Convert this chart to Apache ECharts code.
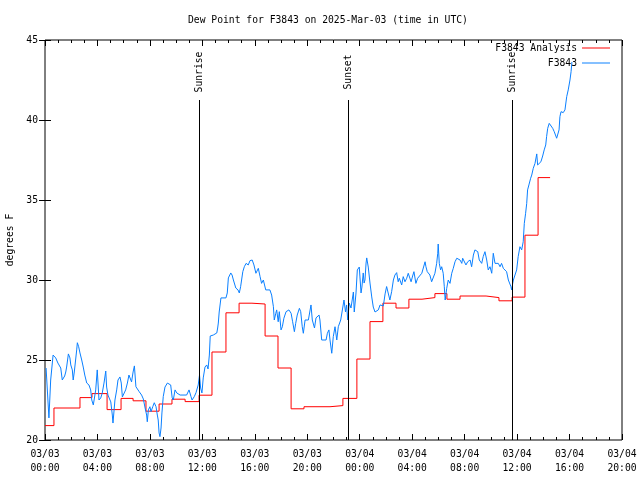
<!DOCTYPE html>
<html><head><meta charset="utf-8">
<script src="https://cdn.jsdelivr.net/npm/echarts@6/dist/echarts.min.js"></script>
<style>html,body{margin:0;padding:0;background:#fff}#c{width:640px;height:480px}</style>
</head><body><div id="c"></div>
<script>
const FONT = '"DejaVu Sans Mono", "Liberation Mono", monospace';
const FS = 9.7;

const titleText = 'Dew Point for F3843 on 2025-Mar-03 (time in UTC)';
const yAxisName = 'degrees F';
// x axis: minutes since 03/03 00:00 UTC
const tickLabels = ['03/03\n00:00','03/03\n04:00','03/03\n08:00','03/03\n12:00','03/03\n16:00','03/03\n20:00',
                    '03/04\n00:00','03/04\n04:00','03/04\n08:00','03/04\n12:00','03/04\n16:00','03/04\n20:00'];

const eventMinutes = [706, 1388, 2140];
const eventLabels = ['Sunrise', 'Sunset', 'Sunrise'];

const analysisName = 'F3843 Analysis';
const analysisMinutes = [0,41,160,215,284,348,403,462,522,581,641,705,764,828,888,947,1007,1066,1126,1185,1304,1363,1427,1487,1546,1606,1665,1725,1784,1839,1899,2018,2077,2137,2196,2256,2311];
const analysisValues = [20.9,22.0,22.65,22.9,21.9,22.6,22.45,21.8,22.25,22.55,22.4,22.8,25.5,27.95,28.55,28.5,26.5,24.5,21.95,22.08,22.15,22.6,25.06,27.4,28.55,28.25,28.8,28.9,29.15,28.8,29.0,28.9,28.7,28.93,32.8,36.4,36.4];

const stationName = 'F3843';
const stationMinutes = [5,18,26,37,49,59,72,79,90,95,99,107,114,118,125,129,134,140,145,148,154,160,168,175,182,191,201,209,214,221,232,239,247,255,262,270,278,282,288,301,308,311,320,328,334,343,349,354,361,369,377,384,396,403,409,416,431,442,450,458,465,468,473,480,485,493,500,508,514,518,522,526,531,535,541,549,560,569,575,582,587,595,603,618,648,659,668,673,683,691,701,707,712,718,724,732,740,746,752,756,770,786,790,793,797,805,828,834,839,850,856,862,873,880,883,889,895,905,912,920,926,930,938,948,956,965,976,984,991,999,1010,1029,1037,1045,1049,1056,1060,1067,1072,1080,1086,1093,1103,1116,1126,1133,1141,1147,1154,1164,1170,1177,1182,1190,1205,1209,1217,1223,1233,1240,1254,1258,1266,1286,1292,1299,1304,1312,1319,1327,1335,1342,1353,1360,1368,1375,1380,1385,1392,1400,1411,1415,1423,1429,1438,1441,1446,1450,1456,1460,1464,1469,1472,1479,1487,1495,1502,1510,1518,1525,1533,1540,1548,1556,1563,1571,1578,1586,1594,1601,1609,1616,1621,1632,1639,1647,1655,1662,1670,1675,1682,1688,1697,1705,1713,1724,1731,1739,1743,1749,1754,1761,1769,1777,1784,1792,1797,1799,1804,1810,1815,1822,1827,1831,1838,1845,1853,1861,1868,1876,1884,1891,1899,1907,1911,1918,1926,1934,1945,1952,1960,1967,1975,1980,1987,1998,2005,2013,2021,2028,2036,2044,2051,2059,2067,2074,2082,2089,2097,2105,2112,2120,2128,2132,2135,2140,2143,2150,2158,2165,2173,2181,2188,2193,2199,2204,2208,2214,2222,2227,2234,2242,2250,2254,2260,2269,2277,2284,2291,2295,2300,2307,2315,2323,2330,2341,2346,2352,2356,2361,2371,2379,2387,2394,2402,2407,2411];
const stationValues = [24.5,21.38,23.75,25.31,25.13,24.81,24.5,23.75,24.0,24.25,24.56,25.38,25.13,24.69,24.38,23.75,24.25,25.0,25.63,26.08,25.83,25.44,25.0,24.56,24.06,23.56,23.44,23.13,22.5,22.19,23.13,24.38,22.5,22.63,22.94,23.56,24.31,23.31,22.81,22.38,21.56,21.06,22.5,23.13,23.75,23.94,23.56,22.69,22.81,23.13,23.56,24.06,23.63,24.25,24.63,23.33,23.02,22.81,22.56,22.0,21.56,21.14,21.88,22.08,21.77,22.08,22.33,22.08,21.56,21.25,20.44,20.21,20.75,21.69,22.71,23.31,23.56,23.64,23.44,22.63,22.5,23.13,22.94,22.81,22.81,23.13,22.71,22.5,22.71,22.96,23.44,24.06,23.25,22.94,23.88,24.56,24.69,24.44,25.31,26.5,26.56,26.69,27.0,27.31,28.0,28.88,28.88,29.19,30.13,30.44,30.31,30.0,29.5,29.58,29.38,29.19,29.58,30.52,30.83,31.04,31.14,30.94,31.21,31.25,30.94,30.42,30.73,30.21,29.79,30.0,29.38,29.38,29.06,28.33,27.5,27.92,28.13,27.39,28.02,26.88,27.08,27.61,28.02,28.13,27.92,27.39,26.77,27.29,27.81,28.23,28.02,27.08,26.67,27.5,27.5,27.81,28.44,27.5,27.0,27.63,27.81,27.5,26.25,26.25,26.67,26.88,26.25,25.42,26.46,27.08,26.25,27.08,27.5,27.39,28.75,28.0,28.44,27.5,28.56,28.25,29.25,28.0,29.19,30.63,30.81,30.19,29.19,29.56,30.44,29.81,30.0,31.06,31.38,30.81,29.81,28.94,28.31,28.0,27.94,28.13,28.44,28.56,28.38,29.13,29.59,29.63,28.75,29.27,30.0,30.31,30.46,29.89,30.11,29.69,30.21,29.89,30.11,30.42,30.46,29.89,30.25,30.52,29.79,30.11,30.0,30.42,30.52,31.14,30.83,30.52,30.42,30.31,29.89,29.89,30.42,31.04,31.67,32.25,31.04,30.63,30.83,30.42,29.58,28.75,29.48,30.0,29.79,30.42,30.73,31.14,31.36,31.46,31.25,31.04,31.36,31.25,30.94,31.14,31.25,30.83,31.56,31.88,31.92,31.77,31.25,31.04,31.46,31.77,31.25,30.63,30.83,30.42,31.67,31.04,30.94,31.04,30.83,31.04,30.73,30.63,30.52,30.0,30.0,29.58,29.38,29.79,30.0,30.11,30.63,31.46,32.08,31.88,32.39,33.54,34.17,34.79,35.63,35.94,36.36,36.56,36.98,37.29,37.88,37.19,37.08,37.39,37.75,38.13,38.44,38.96,39.48,39.79,39.69,39.48,39.27,38.86,38.75,39.38,40.21,40.52,40.46,40.63,41.46,41.88,42.5,43.02,43.63];

const X_MIN = 0, X_MAX = 2640, X_STEP = 240;
const Y_MIN = 20, Y_MAX = 45, Y_STEP = 5;
const EVENT_LINE_TOP = 41.25, EVENT_LABEL_TOP = 44.75;

function pairs(xs, ys) {
  const n = Math.min(xs.length, ys.length);
  const out = [];
  for (let i = 0; i < n; i++) out.push([xs[i], ys[i]]);
  return out;
}

const txt = { fontFamily: FONT, fontSize: FS, color: '#000' };

const markData = [];
eventMinutes.forEach((t, i) => {
  markData.push([{ coord: [t, Y_MIN] }, { coord: [t, EVENT_LINE_TOP] }]);
  markData.push([
    { coord: [t, EVENT_LINE_TOP], lineStyle: { opacity: 0, width: 0 },
      label: Object.assign({ show: true, formatter: eventLabels[i], position: 'insideMiddle', distance: 0, opacity: 1 }, txt) },
    { coord: [t, EVENT_LABEL_TOP] }
  ]);
});

const xCommon = {
  type: 'value', min: X_MIN, max: X_MAX, interval: X_STEP,
  axisLine: { show: false },
  axisTick: { show: true, inside: true, length: 6, lineStyle: { color: '#000', width: 1 } },
  minorTick: { show: true, splitNumber: 4, length: 3, lineStyle: { color: '#000', width: 1 } },
  splitLine: { show: false }, minorSplitLine: { show: false }
};
const yCommon = {
  type: 'value', min: Y_MIN, max: Y_MAX, interval: Y_STEP,
  axisLine: { show: false },
  axisTick: { show: true, inside: true, length: 6, lineStyle: { color: '#000', width: 1 } },
  splitLine: { show: false }
};

const legendCommon = {
  orient: 'vertical', align: 'right', right: 30, padding: 0,
  itemWidth: 28, itemHeight: 1, icon: 'rect', selectedMode: false,
  textStyle: Object.assign({}, txt)
};

const option = {
  animation: false,
  backgroundColor: '#fff',
  title: {
    text: titleText, left: 188, top: 15, padding: 0,
    textStyle: Object.assign({ fontWeight: 'normal' }, txt)
  },
  legend: [
    Object.assign({ data: [analysisName], top: 43 }, legendCommon),
    Object.assign({ data: [stationName], top: 58 }, legendCommon)
  ],
  grid: { left: 45, right: 18, top: 40, bottom: 40, show: true, borderColor: '#000', borderWidth: 1,
          backgroundColor: 'transparent', containLabel: false, outerBoundsMode: 'none' },
  xAxis: [
    Object.assign({}, xCommon, {
      position: 'bottom',
      axisLabel: Object.assign({
        formatter: v => tickLabels[Math.round((v - X_MIN) / X_STEP)] || '',
        lineHeight: 14, margin: 7, showMinLabel: true, showMaxLabel: true, hideOverlap: false
      }, txt)
    }),
    Object.assign({}, xCommon, { position: 'top', axisLabel: { show: false } })
  ],
  yAxis: [
    Object.assign({}, yCommon, {
      position: 'left',
      name: yAxisName, nameLocation: 'middle', nameGap: 30, nameRotate: 90,
      nameTextStyle: Object.assign({}, txt),
      axisLabel: Object.assign({ margin: 7 }, txt)
    }),
    Object.assign({}, yCommon, { position: 'right', axisLabel: { show: false } })
  ],
  series: [
    {
      name: analysisName, type: 'line', step: 'end', showSymbol: false, symbol: 'none',
      data: pairs(analysisMinutes, analysisValues),
      color: '#ff0000', lineStyle: { color: '#ff0000', width: 1 },
      xAxisIndex: 0, yAxisIndex: 0,
      markLine: {
        silent: true, symbol: ['none', 'none'], animation: false,
        lineStyle: { color: '#000', width: 1, type: 'solid' },
        label: { show: false },
        emphasis: { disabled: true },
        data: markData
      }
    },
    {
      name: stationName, type: 'line', showSymbol: false, symbol: 'none',
      data: pairs(stationMinutes, stationValues),
      color: '#0a80ff', lineStyle: { color: '#0a80ff', width: 1 },
      xAxisIndex: 0, yAxisIndex: 0
    }
  ]
};

const chart = echarts.init(document.getElementById('c'), null, { renderer: 'canvas' });
chart.setOption(option);
</script>
</body></html>
